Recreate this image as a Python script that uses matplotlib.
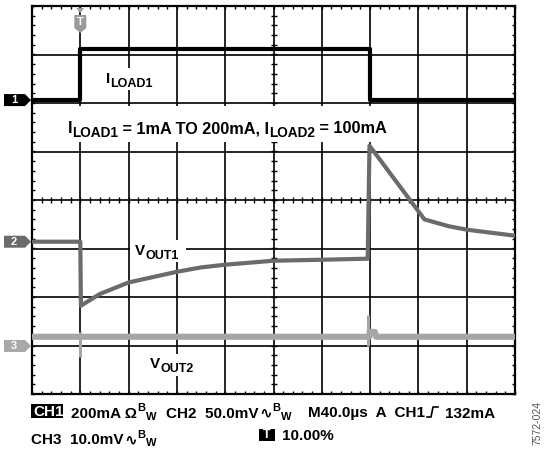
import numpy as np
import matplotlib
matplotlib.use('Agg')
import matplotlib.pyplot as plt
from matplotlib.patches import Polygon, Rectangle
from matplotlib.lines import Line2D
from matplotlib.transforms import IdentityTransform

W, H = 544, 449
FONT = ['Liberation Sans', 'DejaVu Sans']

# scope settings
t_div = 40.0                       # us/div
trig_div = 1.0                     # trigger position, div from left
ch1_scale, ch1_pos = 200.0, 2.06   # mA/div, marker (div)
ch2_scale, ch2_pos = 50.0, -0.86   # mV/div
ch3_scale, ch3_pos = 10.0, -3.01   # mV/div

# CH1: I_LOAD1 (mA)
t1 = [-40, 0, 0, 240, 240, 360]
i_load1 = [1, 1, 210, 210, 1, 1]

# CH2: V_OUT1 (mV, relative to start level)
t2 = [-40, 0, 0.5, 16, 40, 80, 100, 120, 160, 200, 238, 239.5, 285, 305, 320, 360]
v_out1 = [0, 0, -66, -54, -42, -31, -26.5, -23.7, -19.6, -18.6, -17.5, 99, 23, 16, 12.4, 6.2]

# CH3: V_OUT2 (mV), level plus short ledge after the second edge
t3 = [-40, 239.5, 239.5, 244, 245, 360]
v_out2 = [1.9, 1.9, 2.9, 2.9, 1.9, 1.9]
# CH3 spikes at the load edges
spike_t = [0, 238.5]
spike_hi = [2.9, 6.4]
spike_lo = [-2.3, 0.0]


def to_x(t):
    return np.asarray(t) / t_div + trig_div


fig = plt.figure(figsize=(W / 100, H / 100), dpi=100, facecolor='white')
ax = fig.add_axes([32 / W, 1 - 394 / H, 483 / W, 388 / H])
ax.set_xlim(0, 10)
ax.set_ylim(-4, 4)

# grid
for k in range(1, 10):
    ax.axvline(k, color='black', lw=1.2, zorder=1)
for k in range(-3, 4):
    ax.axhline(k, color='black', lw=1.2, zorder=1)
for s in ax.spines.values():
    s.set_linewidth(1.6)

# minor ticks on border
ax.set_xticks(np.arange(0, 10.01, 0.2))
ax.set_yticks(np.arange(-4, 4.01, 0.2))
ax.tick_params(direction='in', length=2.5, width=1, top=True, right=True,
               labelbottom=False, labelleft=False)
# minor ticks on centre lines
xm = np.arange(0.2, 10, 0.2)
ym = np.arange(-3.8, 4, 0.2)
ax.plot(xm, np.zeros_like(xm), ls='', marker='|', ms=5, mew=1, color='black', zorder=1)
ax.plot(np.full_like(ym, 5.0), ym, ls='', marker='_', ms=5, mew=1, color='black', zorder=1)

# traces
ax.plot(to_x(t3), np.asarray(v_out2) / ch3_scale + ch3_pos, color='#a6a6a6', lw=4.4, zorder=3)
ax.vlines(to_x(spike_t), np.asarray(spike_lo) / ch3_scale + ch3_pos,
          np.asarray(spike_hi) / ch3_scale + ch3_pos, color='#a6a6a6', lw=2.2, zorder=3)
ax.plot(to_x(t2), np.asarray(v_out1) / ch2_scale + ch2_pos, color='#6b6b6b', lw=3.0, zorder=3)
ax.plot(to_x(t1), np.asarray(i_load1) / ch1_scale + ch1_pos, color='black', lw=3.0, zorder=4)


def ypx(pos):
    # display y (pixels from bottom) of a level in divisions
    return ax.transData.transform((0, pos))[1]


def ftext(x, y, s, **kw):
    # x, y in pixels, y from top (baseline)
    kw.setdefault('family', FONT)
    kw.setdefault('fontweight', 'bold')
    kw.setdefault('va', 'baseline')
    return fig.text(x, H - y, s, transform=IdentityTransform(), **kw)


def white_box(x0, y0, x1, y1):
    fig.add_artist(Rectangle((x0, H - y1), x1 - x0, y1 - y0, transform=IdentityTransform(),
                             facecolor='white', edgecolor='none', zorder=1))


rend = fig.canvas.get_renderer()


def run(x, y, pieces, gap=0.5):
    # pieces: (text, size, baseline shift in px); placed one after another
    for s, size, dy in pieces:
        t = ftext(x, y + dy, s, fontsize=size, zorder=3)
        x += t.get_window_extent(rend).width + gap
    return x


def sub_label(x, y, pieces, size=11, subsize=9, drop=4):
    run(x, y, [(s, subsize if is_sub else size, drop if is_sub else 0) for s, is_sub in pieces],
        gap=0)


# labels with white background
white_box(104, 68, 156, 90)
sub_label(106, 83, [('I', False), ('LOAD1', True)])
white_box(62, 106, 390, 142)
sub_label(68, 133, [('I', False), ('LOAD1', True), (' = 1mA TO 200mA, I', False),
                    ('LOAD2', True), (' = 100mA', False)], size=11.7, subsize=9.8)
white_box(130, 240, 186, 262)
sub_label(135, 255, [('V', False), ('OUT1', True)])
white_box(146, 354, 200, 376)
sub_label(150, 368, [('V', False), ('OUT2', True)])

# channel markers
for num, pos, col in [('1', ch1_pos, 'black'), ('2', ch2_pos, '#6b6b6b'), ('3', ch3_pos, '#a8a8a8')]:
    yc = ypx(pos)
    fig.add_artist(Polygon([(4, yc - 6), (25, yc - 6), (31, yc), (25, yc + 6), (4, yc + 6)],
                           closed=True, transform=IdentityTransform(), facecolor=col,
                           edgecolor='none', zorder=5))
    fig.text(14, yc, num, transform=IdentityTransform(), color='white', family=FONT,
             fontweight='bold', fontsize=8, ha='center', va='center', zorder=6)

# trigger marker
xt = ax.transData.transform((trig_div, 0))[0]
fig.add_artist(Polygon([(xt - 4, H - 8), (xt + 4, H - 8), (xt, H - 13)], closed=True,
                       transform=IdentityTransform(), facecolor='#9a9a9a', edgecolor='none', zorder=5))
fig.add_artist(Polygon([(xt - 6, H - 15), (xt + 6, H - 15), (xt + 6, H - 28), (xt, H - 33),
                        (xt - 6, H - 28)], closed=True, transform=IdentityTransform(),
                       facecolor='#9a9a9a', edgecolor='none', zorder=5))
fig.text(xt, H - 22, 'T', transform=IdentityTransform(), color='white', family=FONT,
         fontweight='bold', fontsize=8, ha='center', va='center', zorder=6)

# bottom status text
fs, fb = 11, 8
bw = [('B', fb, -6.5), ('W', fb, 2.5)]
fig.add_artist(Rectangle((31, H - 418), 32, 14, transform=IdentityTransform(),
                         facecolor='black', edgecolor='none', zorder=5))
ftext(33, 416.5, 'CH1', fontsize=fs, color='white', zorder=6)
run(71, 417.5, [('200mA Ω', fs, 0)] + bw)
run(166, 417.5, [('CH2  50.0mV', fs, 0), ('∿', fs, 0)] + bw)
run(308, 417.5, [('M40.0µs  A  CH1', fs, 0)])
fig.add_artist(Line2D([427, 431, 433, 438], [H - 417, H - 417, H - 407, H - 407],
                      transform=IdentityTransform(), color='black', lw=1.2))
run(445, 417.5, [('132mA', fs, 0)])

run(31, 444, [('CH3  10.0mV', fs, 0), ('∿', fs, 0)] + bw)
fig.add_artist(Rectangle((259, H - 441), 16, 12, transform=IdentityTransform(),
                         facecolor='black', edgecolor='none', zorder=5))
fig.text(267, H - 435, 'T', transform=IdentityTransform(), color='white', family=FONT,
         fontweight='bold', fontsize=9, ha='center', va='center', zorder=6)
run(282, 439.5, [('10.00%', fs, 0)])

fig.text(537, H - 423, '7572-024', transform=IdentityTransform(), family=FONT, fontsize=7.5,
         color='#555555', rotation=90, ha='center', va='center')

fig.savefig('out.png', dpi=100)
